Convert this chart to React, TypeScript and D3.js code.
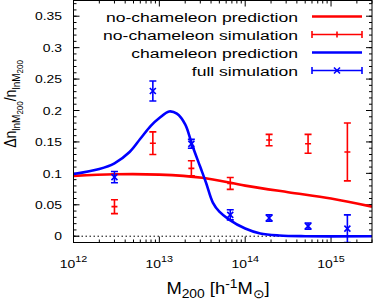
import React from 'react';
import * as d3 from 'd3';

// halo mass bins of the simulations
const massBins = [3e12, 8.4e12, 2.36e13, 6.7e13, 1.9e14, 5.4e14, 1.55e15];
const noChamSim = [0.047, 0.148, 0.108, 0.084, 0.153, 0.147, 0.134];
const noChamErr = [0.011, 0.018, 0.012, 0.0095, 0.009, 0.015, 0.046];
const fullSim = [0.094, 0.231, 0.147, 0.034, 0.029, 0.016, 0.012];
const fullErr = [0.009, 0.016, 0.007, 0.008, 0.005, 0.005, 0.022];

// prediction curves
const noChamMass = [1e12, 3e12, 1e13, 3.16e13, 1e14, 3.16e14, 1e15, 3e15];
const noChamPred = [0.096, 0.0985, 0.098, 0.093, 0.0805, 0.07, 0.06, 0.047];
const chamMass = [1e12, 2e12, 3e12, 4.5e12, 6e12, 8e12, 1e13, 1.3e13, 1.6e13, 2e13, 2.4e13, 3e13,
  3.5e13, 4.2e13, 5e13, 6.5e13, 1e14, 1.5e14, 2.5e14, 5e14, 3e15];
const chamPred = [0.099, 0.107, 0.116, 0.134, 0.155, 0.176, 0.188, 0.1985, 0.195, 0.178, 0.146, 0.11,
  0.085, 0.0535, 0.039, 0.0265, 0.0122, 0.0043, 0.0011, 0, 0];

const yTicks = [0, 0.05, 0.1, 0.15, 0.2, 0.25, 0.3, 0.35];
const yTickLabels = ['0', '0.05', '0.1', '0.15', '0.2', '0.25', '0.3', '0.35'];
const xDecades = [1e12, 1e13, 1e14, 1e15];
const xDecadeExp = ['12', '13', '14', '15'];

const legendLabels = ['no-chameleon prediction', 'no-chameleon simulation', 'chameleon prediction', 'full simulation'];

const RED = '#ff0000';
const BLUE = '#0000ff';
const FONT = '"Liberation Sans", Arial, Helvetica, sans-serif';

const App = () => {
  const x = d3.scaleLog().domain([1e12, 3e15]).range([73.5, 372]);
  const y = d3.scaleLinear().domain([-0.01, 0.375]).range([242.5, 0.5]);
  const [x0, x1] = x.range();
  const [y0, y1] = y.range();

  const line = d3.line<[number, number]>()
    .x(d => x(d[0]))
    .y(d => y(d[1]))
    .curve(d3.curveCatmullRom.alpha(0.5));

  const redPath = line(noChamMass.map((m, i) => [m, noChamPred[i]]));
  const bluePath = line(chamMass.map((m, i) => [m, chamPred[i]]));

  const yMinor = d3.range(-0.01, 0.3751, 0.01);
  const xMinor: number[] = [];
  xDecades.forEach(d => {
    for (let k = 2; k <= 9; k++) if (d * k <= 3e15) xMinor.push(d * k);
  });

  const cap = 3.5;
  const errBars = (vals: number[], errs: number[], color: string, marker: 'plus' | 'cross') =>
    massBins.map((m, i) => {
      const cx = x(m);
      const cy = y(vals[i]);
      const top = y(vals[i] + errs[i]);
      const bot = y(vals[i] - errs[i]);
      return (
        <g key={i} stroke={color} strokeWidth={1.6}>
          <line x1={cx} x2={cx} y1={top} y2={bot} />
          <line x1={cx - cap} x2={cx + cap} y1={top} y2={top} />
          <line x1={cx - cap} x2={cx + cap} y1={bot} y2={bot} />
          {marker === 'plus'
            ? <line x1={cx - 3} x2={cx + 3} y1={cy} y2={cy} />
            : <g>
                <line x1={cx - 3} x2={cx + 3} y1={cy - 3} y2={cy + 3} />
                <line x1={cx - 3} x2={cx + 3} y1={cy + 3} y2={cy - 3} />
              </g>}
        </g>
      );
    });

  const legX0 = 312, legX1 = 362, legTextX = 298;
  const legY = (i: number) => 16.5 + i * 18;

  return (
    <svg width={374} height={302} style={{ position: 'absolute', left: 0, top: 0 }} fontFamily={FONT}>
      <rect width={374} height={302} fill="#fff" />
      <defs>
        <clipPath id="plotArea">
          <rect x={x0} y={y1} width={x1 - x0} height={y0 - y1} />
        </clipPath>
      </defs>

      {/* zero line */}
      <line x1={x0} x2={x1} y1={y(0)} y2={y(0)} stroke="#000" strokeWidth={1} strokeDasharray="1.5,2.5" />

      {/* ticks */}
      <g stroke="#000" strokeWidth={1}>
        {yMinor.map((v, i) => (
          <g key={'ym' + i}>
            <line x1={x0} x2={x0 + 3} y1={y(v)} y2={y(v)} />
            <line x1={x1} x2={x1 - 3} y1={y(v)} y2={y(v)} />
          </g>
        ))}
        {yTicks.map((v, i) => (
          <g key={'yM' + i}>
            <line x1={x0} x2={x0 + 6} y1={y(v)} y2={y(v)} />
            <line x1={x1} x2={x1 - 6} y1={y(v)} y2={y(v)} />
          </g>
        ))}
        {xMinor.map((v, i) => (
          <g key={'xm' + i}>
            <line x1={x(v)} x2={x(v)} y1={y0} y2={y0 - 3} />
            <line x1={x(v)} x2={x(v)} y1={y1} y2={y1 + 3} />
          </g>
        ))}
        {xDecades.map((v, i) => (
          <g key={'xM' + i}>
            <line x1={x(v)} x2={x(v)} y1={y0} y2={y0 - 6} />
            <line x1={x(v)} x2={x(v)} y1={y1} y2={y1 + 6} />
          </g>
        ))}
      </g>

      {/* data */}
      <g clipPath="url(#plotArea)">
        <path d={redPath || ''} fill="none" stroke={RED} strokeWidth={2.6} />
        <path d={bluePath || ''} fill="none" stroke={BLUE} strokeWidth={2.6} />
        {errBars(noChamSim, noChamErr, RED, 'plus')}
        {errBars(fullSim, fullErr, BLUE, 'cross')}
      </g>

      <rect x={x0} y={y1} width={x1 - x0} height={y0 - y1} fill="none" stroke="#000" strokeWidth={1} />

      {/* y tick labels */}
      {yTicks.map((v, i) => (
        <text key={'yl' + i} transform={`translate(62,${y(v) + 4.2}) scale(1.2,1)`} textAnchor="end" fontSize={11.6} fill="#000">
          {yTickLabels[i]}
        </text>
      ))}

      {/* x tick labels */}
      {xDecades.map((v, i) => (
        <text key={'xl' + i} transform={`translate(${x(v)},268) scale(1.2,1)`} textAnchor="middle" fontSize={11.6} fill="#000">
          10<tspan dy={-6} fontSize={9}>{xDecadeExp[i]}</tspan>
        </text>
      ))}

      {/* axis titles */}
      <text transform="translate(218,294) scale(1.15,1)" textAnchor="middle" fontSize={16} fill="#000">
        M<tspan dy={4} fontSize={12}>200</tspan>
        <tspan dy={-4}> [h</tspan>
        <tspan dy={-6} fontSize={12}>-1</tspan>
        <tspan dy={6}>M</tspan>
        <tspan dy={4} fontSize={12}>⊙</tspan>
        <tspan dy={-4}>]</tspan>
      </text>
      <text transform="translate(16,104) rotate(-90) scale(1,1.12)" textAnchor="middle" fontSize={14} fill="#000">
        Δn<tspan dy={4} fontSize={10}>lnM</tspan>
        <tspan fontSize={8} dy={2}>200</tspan>
        <tspan dy={-6}>/n</tspan>
        <tspan dy={4} fontSize={10}>lnM</tspan>
        <tspan fontSize={8} dy={2}>200</tspan>
      </text>

      {/* legend */}
      {legendLabels.map((t, i) => (
        <text key={'lg' + i} transform={`translate(${legTextX},${legY(i) + 5}) scale(1.3,1)`} textAnchor="end" fontSize={13.5} fill="#000">
          {t}
        </text>
      ))}
      <line x1={legX0} x2={legX1} y1={legY(0)} y2={legY(0)} stroke={RED} strokeWidth={2.6} />
      <g stroke={RED} strokeWidth={1.6}>
        <line x1={legX0} x2={legX1} y1={legY(1)} y2={legY(1)} />
        <line x1={legX0} x2={legX0} y1={legY(1) - cap} y2={legY(1) + cap} />
        <line x1={legX1} x2={legX1} y1={legY(1) - cap} y2={legY(1) + cap} />
        <line x1={(legX0 + legX1) / 2} x2={(legX0 + legX1) / 2} y1={legY(1) - 3} y2={legY(1) + 3} />
      </g>
      <line x1={legX0} x2={legX1} y1={legY(2)} y2={legY(2)} stroke={BLUE} strokeWidth={2.6} />
      <g stroke={BLUE} strokeWidth={1.6}>
        <line x1={legX0} x2={legX1} y1={legY(3)} y2={legY(3)} />
        <line x1={legX0} x2={legX0} y1={legY(3) - cap} y2={legY(3) + cap} />
        <line x1={legX1} x2={legX1} y1={legY(3) - cap} y2={legY(3) + cap} />
        <line x1={(legX0 + legX1) / 2 - 3} x2={(legX0 + legX1) / 2 + 3} y1={legY(3) - 3} y2={legY(3) + 3} />
        <line x1={(legX0 + legX1) / 2 - 3} x2={(legX0 + legX1) / 2 + 3} y1={legY(3) + 3} y2={legY(3) - 3} />
      </g>
    </svg>
  );
};

export default App;
